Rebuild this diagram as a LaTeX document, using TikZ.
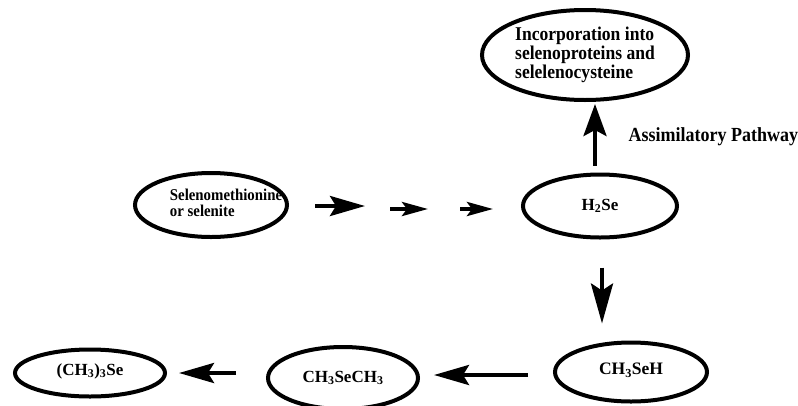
\documentclass[tikz,border=0pt]{standalone}
\usepackage{fontspec}
\setmainfont{Liberation Serif}
\newfontfamily\narrowserif{Liberation Serif}[FakeStretch=0.9]
\usetikzlibrary{shapes.geometric, arrows.meta}

\begin{document}
\begin{tikzpicture}[x=1pt, y=-1pt,
  cpd/.style={draw, ellipse, line width=4pt, inner sep=0pt, font=\bfseries},
  bigarrow/.style={line width=4pt, -{Stealth[length=35pt, width=20pt, inset=6pt]}},
  smallarrow/.style={line width=4pt, -{Stealth[length=26pt, width=14pt, inset=5pt]}}]
\useasboundingbox (0,0) rectangle (798,405);
\node (sel)[cpd, minimum width=152pt, minimum height=64pt,
  font=\narrowserif\bfseries\fontsize{16.5}{13.5}\selectfont] at (211,205)
  {\makebox[0pt]{\hspace*{30pt}\begin{tabular}{@{}l@{}}Selenomethionine\\ or selenite\end{tabular}}};
\node (h2se)[cpd, minimum width=154pt, minimum height=63pt,
  font=\bfseries\fontsize{17}{17}\selectfont] at (600,206) {H\textsubscript{2}Se};
\node (incorp)[cpd, minimum width=206pt, minimum height=90pt, align=left,
  font=\narrowserif\bfseries\fontsize{19.5}{17.5}\selectfont] at (585,55)
  {Incorporation into\\selenoproteins and\\selelenocysteine};
\node (ch3seh)[cpd, minimum width=152pt, minimum height=59pt,
  font=\bfseries\fontsize{17.5}{17}\selectfont] at (631,372) {\raisebox{6pt}{CH\textsubscript{3}SeH}};
\node (dmse)[cpd, minimum width=150pt, minimum height=62pt,
  font=\bfseries\fontsize{17}{17}\selectfont] at (343,378) {\raisebox{-4pt}{CH\textsubscript{3}SeCH\textsubscript{3}}};
\node (tmse)[cpd, minimum width=150pt, minimum height=47pt,
  font=\bfseries\fontsize{17}{17}\selectfont] at (90,373) {\raisebox{7pt}{(CH\textsubscript{3})\textsubscript{3}Se}};
\node (assim)[anchor=west, font=\narrowserif\bfseries\fontsize{20}{20}\selectfont] at (625,137) {Assimilatory Pathway};
% towards H2Se
\draw[bigarrow, shorten <=26pt, shorten >=156pt] ([yshift=-1pt]sel.east) -- (h2se.west);
\draw[smallarrow, shorten <=101pt, shorten >=93pt] ([yshift=-4pt]sel.east) -- ([yshift=-3pt]h2se.west);
\draw[smallarrow, shorten <=171pt, shorten >=28pt] ([yshift=-4pt]sel.east) -- ([yshift=-3pt]h2se.west);
% assimilatory and methylation steps
\draw[line width=4pt, -{Stealth[length=32pt, width=23pt, inset=6pt]}, shorten <=7pt, shorten >=2pt]
  ([xshift=-5pt]h2se.north) -- ([xshift=-5pt]h2se.north |- incorp.south);
\draw[line width=4pt, -{Stealth[length=40pt, width=22pt, inset=7pt]}, shorten <=28pt, shorten >=17pt]
  ([xshift=2pt]h2se.south) -- ([xshift=2pt]h2se.south |- ch3seh.north);
\draw[bigarrow, shorten <=25pt, shorten >=14pt] ([yshift=-3pt]ch3seh.west) -- ([yshift=-3pt]ch3seh.west -| dmse.east);
\draw[bigarrow, shorten <=30pt, shorten >=12pt] (dmse.west |- tmse.east) -- (tmse.east);
\end{tikzpicture}
\end{document}
